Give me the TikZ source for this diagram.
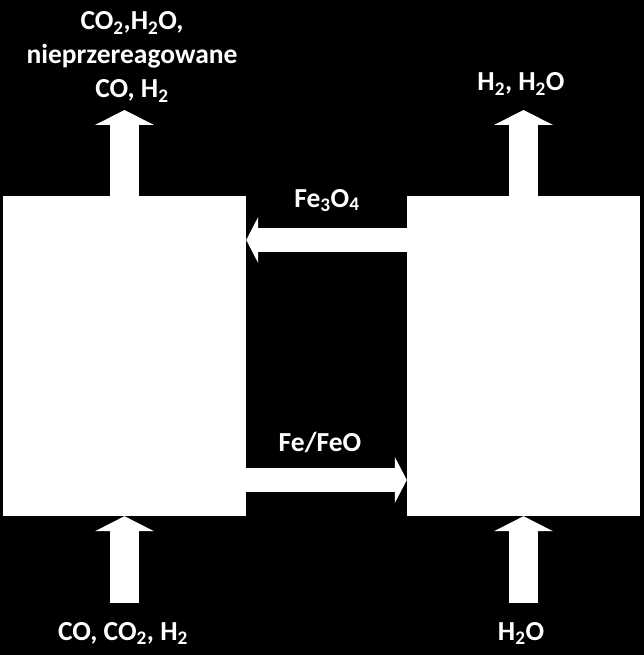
\documentclass[tikz,border=0pt]{standalone}
\usepackage{fontspec}
\setmainfont{Carlito}
\usetikzlibrary{arrows.meta}
\begin{document}
\begin{tikzpicture}[x=1pt,y=-1pt,
  box/.style={fill=white, draw=none, inner sep=0pt, minimum height=320pt},
  lbl/.style={text=white, font=\bfseries\fontsize{27.5}{34}\selectfont, align=center, inner sep=0pt},
  bigarrow/.style={draw=white, line width=29pt, -{Triangle[width=59pt,length=15pt,line width=0pt]}},
  smallarrow/.style={draw=white, line width=24pt, -{Triangle[width=46pt,length=12pt,line width=0pt]}}]
\fill[black] (0,0) rectangle (644,655);
\useasboundingbox (0,0) rectangle (644,655);
\node[box, minimum width=243pt] (lbox) at (124.5,356) {};
\node[box, minimum width=233pt] (rbox) at (523.5,356) {};
% vertical arrows
\coordinate (ltop) at (124.5,110);
\coordinate (lbot) at (124.5,603);
\coordinate (rtop) at (523.5,110);
\coordinate (rbot) at (523.5,603);
\draw[bigarrow] (lbox.north) -- (ltop);
\draw[bigarrow] (lbot) -- (lbox.south);
\draw[bigarrow] (rbox.north) -- (rtop);
\draw[bigarrow] (rbot) -- (rbox.south);
% horizontal arrows
\draw[smallarrow] ([yshift=116pt]rbox.west) -- ([yshift=116pt]lbox.east);
\draw[smallarrow] ([yshift=-124pt]lbox.east) -- ([yshift=-124pt]rbox.west);
% labels
\node[lbl] (ltxt) at (132,57) {CO\textsubscript{2},H\textsubscript{2}O,\\nieprzereagowane\\CO, H\textsubscript{2}};
\node[lbl, anchor=base] (rtxt) at (521,91) {H\textsubscript{2}, H\textsubscript{2}O};
\node[lbl, anchor=base] (fe3) at (327,207) {Fe\textsubscript{3}O\textsubscript{4}};
\node[lbl, anchor=base] (fe) at (320,451) {Fe/FeO};
\node[lbl, anchor=base] (lin) at (123,640) {CO, CO\textsubscript{2}, H\textsubscript{2}};
\node[lbl, anchor=base] (rin) at (521,640) {H\textsubscript{2}O};
\end{tikzpicture}
\end{document}
